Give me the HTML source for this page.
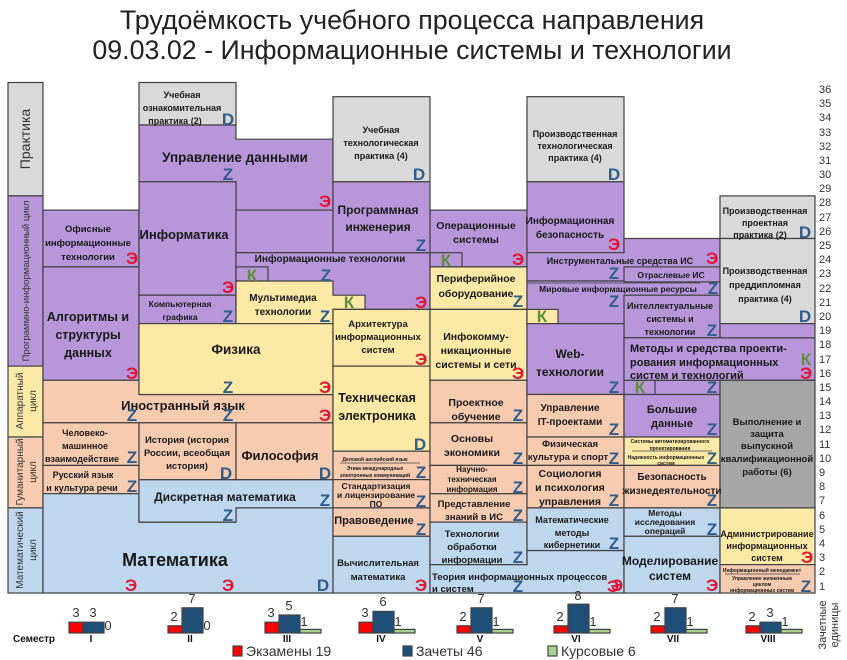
<!DOCTYPE html>
<html><head><meta charset="utf-8"><style>
html,body{margin:0;padding:0;background:#fff;}
svg{display:block;font-family:"Liberation Sans","DejaVu Sans",sans-serif;}
.t{font-weight:bold;fill:#1a1a1a;text-anchor:middle;}
.m{font-weight:bold;font-size:17px;text-anchor:middle;}
.z{fill:#2f5d8c}.e{fill:#e8112d}.k{fill:#5e8f3e}
.G{fill:#d9d9d9}.P{fill:#b896da}.Y{fill:#fde9a6}.O{fill:#f7cbaf}.B{fill:#bed6ee}.D{fill:#a6a6a6}
rect,polygon{stroke:#404040;stroke-width:1.2}
.n{font-size:11px;fill:#333}
</style></head><body>
<svg width="847" height="660" viewBox="0 0 847 660" xmlns="http://www.w3.org/2000/svg">
<text x="412" y="29" font-size="26.8" text-anchor="middle" fill="#222">Трудоёмкость учебного процесса направления</text>
<text x="412" y="59" font-size="26.8" text-anchor="middle" fill="#222">09.03.02 - Информационные системы и технологии</text>

<!-- category column -->
<rect class="G" x="8" y="82.5" width="35" height="113.4"/>
<rect class="P" x="8" y="195.9" width="35" height="170.2"/>
<rect class="Y" x="8" y="366.1" width="35" height="70.9"/>
<rect class="O" x="8" y="437" width="35" height="70.9"/>
<rect class="B" x="8" y="507.9" width="35" height="85.1"/>
<text transform="translate(30,139) rotate(-90)" font-size="14" text-anchor="middle" fill="#333">Практика</text>
<text transform="translate(29,281) rotate(-90)" font-size="9.5" text-anchor="middle" fill="#333">Программно-информационный цикл</text>
<text transform="translate(23,401) rotate(-90)" font-size="10" text-anchor="middle" fill="#333">Аппаратный</text>
<text transform="translate(36,401) rotate(-90)" font-size="10" text-anchor="middle" fill="#333">цикл</text>
<text transform="translate(23,472) rotate(-90)" font-size="10" text-anchor="middle" fill="#333">Гуманитарный</text>
<text transform="translate(36,472) rotate(-90)" font-size="10" text-anchor="middle" fill="#333">цикл</text>
<text transform="translate(23,550) rotate(-90)" font-size="10" text-anchor="middle" fill="#333">Математический</text>
<text transform="translate(36,550) rotate(-90)" font-size="10" text-anchor="middle" fill="#333">цикл</text>

<!-- Col I -->
<rect class="P" x="43" y="210.1" width="96" height="56.8"/>
<rect class="P" x="43" y="266.9" width="96" height="113.4"/>
<polygon class="O" points="43,380.3 139,380.3 139,394.5 333,394.5 333,422.8 43,422.8"/>
<rect class="O" x="43" y="422.8" width="96" height="42.6"/>
<rect class="O" x="43" y="465.4" width="96" height="28.3"/>
<polygon class="B" points="43,493.7 139,493.7 139,522.1 236,522.1 236,507.9 333,507.9 333,593 43,593"/>
<polygon class="B" points="139,479.6 333,479.6 333,507.9 236,507.9 236,522.1 139,522.1"/>
<rect class="O" x="139" y="422.8" width="97" height="56.8"/>
<rect class="O" x="236" y="422.8" width="97" height="56.8"/>

<!-- Col II -->
<rect class="G" x="139" y="82.5" width="97" height="42.5"/>
<polygon class="P" points="139,125 236,125 236,139.2 333,139.2 333,210.1 236,210.1 236,181.8 139,181.8"/>
<rect class="P" x="139" y="181.8" width="97" height="113.4"/>
<rect class="P" x="139" y="295.2" width="97" height="28.4"/>

<!-- Col III -->
<rect class="P" x="236" y="210.1" width="97" height="42.6"/>
<rect class="P" x="236" y="252.7" width="194" height="56.7"/>
<rect class="P" x="236" y="266.9" width="32" height="14.1"/>
<polygon class="Y" points="236,281 333,281 333,295.2 365,295.2 365,309.4 333,309.4 333,323.6 236,323.6"/>
<rect class="Y" x="139" y="323.6" width="194" height="70.9"/>

<!-- Col IV -->
<rect class="G" x="333" y="96.7" width="97" height="85.1"/>
<rect class="P" x="333" y="181.8" width="97" height="70.9"/>
<rect class="Y" x="333" y="309.4" width="97" height="56.7"/>
<rect class="Y" x="333" y="366.1" width="97" height="85.1"/>
<rect class="O" x="333" y="451.2" width="97" height="28.4"/>
<line x1="340" y1="463" x2="420" y2="463" stroke="#404040" stroke-width="0.8"/>
<rect class="O" x="333" y="479.6" width="97" height="28.3"/>
<rect class="O" x="333" y="507.9" width="97" height="28.4"/>
<rect class="B" x="333" y="536.3" width="97" height="56.7"/>

<!-- Col V -->
<rect class="P" x="430" y="210.1" width="97" height="56.8"/>
<rect class="P" x="430" y="252.7" width="32" height="14.2"/>
<rect class="Y" x="430" y="266.9" width="97" height="42.5"/>
<rect class="Y" x="430" y="309.4" width="97" height="70.9"/>
<rect class="O" x="430" y="380.3" width="97" height="42.5"/>
<rect class="O" x="430" y="422.8" width="97" height="42.6"/>
<rect class="O" x="430" y="465.4" width="97" height="28.3"/>
<rect class="O" x="430" y="493.7" width="97" height="28.4"/>
<rect class="B" x="430" y="522.1" width="97" height="42.5"/>
<polygon class="B" points="430,564.6 527,564.6 527,550.5 624,550.5 624,593 430,593"/>

<!-- Col VI -->
<rect class="G" x="527" y="96.7" width="97" height="85.1"/>
<rect class="P" x="527" y="181.8" width="97" height="70.9"/>
<polygon class="P" points="527,252.7 624,252.7 624,238.5 720,238.5 720,281 527,281"/>
<rect class="P" x="527" y="281" width="193" height="42.6"/>
<rect class="P" x="624" y="266.9" width="96" height="15"/>
<line x1="527" y1="283" x2="700" y2="283" stroke="#404040" stroke-width="0.8"/>
<rect class="P" x="624" y="295.2" width="96" height="42.6"/>
<rect class="Y" x="527" y="309.4" width="31" height="14.2"/>
<polygon class="P" points="527,323.6 624,323.6 624,380.3 720,380.3 720,394.5 527,394.5"/>
<rect class="P" x="624" y="380.3" width="31" height="14.2"/>
<rect class="O" x="527" y="394.5" width="97" height="42.5"/>
<rect class="O" x="527" y="437" width="97" height="28.4"/>
<rect class="O" x="527" y="465.4" width="97" height="42.5"/>
<rect class="B" x="527" y="507.9" width="97" height="42.6"/>

<!-- Col VII -->
<rect class="P" x="624" y="337.8" width="191" height="42.5"/>
<rect class="P" x="624" y="394.5" width="96" height="42.5"/>
<rect class="Y" x="624" y="437" width="96" height="28.4"/>
<line x1="632" y1="451" x2="712" y2="451" stroke="#404040" stroke-width="0.8"/>
<rect class="O" x="624" y="465.4" width="96" height="42.5"/>
<rect class="B" x="624" y="507.9" width="96" height="28.4"/>
<rect class="B" x="624" y="536.3" width="96" height="56.7"/>

<!-- Col VIII -->
<rect class="G" x="720" y="195.9" width="95" height="42.6"/>
<rect class="G" x="720" y="238.5" width="95" height="85.1"/>
<rect class="P" x="720" y="323.6" width="95" height="14.2"/>
<rect class="D" x="720" y="380.3" width="95" height="127.6"/>
<rect class="Y" x="720" y="507.9" width="95" height="56.7"/>
<rect class="O" x="720" y="564.6" width="95" height="28.4"/>
<line x1="725" y1="574" x2="800" y2="574" stroke="#404040" stroke-width="0.8"/>

<!-- texts -->
<g class="t">
<text x="88" y="232" font-size="9.5">Офисные</text>
<text x="88" y="246" font-size="9.5">информационные</text>
<text x="88" y="260" font-size="9.5">технологии</text>
<text x="88" y="321" font-size="12.5">Алгоритмы и</text>
<text x="88" y="339" font-size="12.5">структуры</text>
<text x="88" y="357" font-size="12.5">данных</text>
<text x="183" y="410" font-size="13">Иностранный язык</text>
<text x="85" y="436" font-size="9">Человеко-</text>
<text x="85" y="449" font-size="9">машинное</text>
<text x="82" y="462" font-size="9">взаимодействие</text>
<text x="83" y="478" font-size="9">Русский язык</text>
<text x="82" y="491" font-size="9">и культура речи</text>
<text x="175" y="566" font-size="18">Математика</text>

<text x="182" y="98" font-size="9">Учебная</text>
<text x="182" y="111" font-size="9">ознакомительная</text>
<text x="175" y="124" font-size="9">практика (2)</text>
<text x="235" y="162" font-size="13.5">Управление данными</text>
<text x="184" y="239" font-size="13">Информатика</text>
<text x="180" y="307" font-size="8.5">Компьютерная</text>
<text x="180" y="320" font-size="8.5">графика</text>
<text x="236" y="354" font-size="13.5">Физика</text>
<text x="187" y="443" font-size="9.5">История  (история</text>
<text x="187" y="456" font-size="9.5">России, всеобщая</text>
<text x="187" y="469" font-size="9.5">история)</text>
<text x="280" y="460" font-size="13">Философия</text>
<text x="225" y="501" font-size="12">Дискретная математика</text>

<text x="330" y="262" font-size="10">Информационные технологии</text>
<text x="283" y="301" font-size="10">Мультимедиа</text>
<text x="283" y="315" font-size="10">технологии</text>

<text x="381" y="133" font-size="9">Учебная</text>
<text x="381" y="146" font-size="9">технологическая</text>
<text x="381" y="159" font-size="9">практика (4)</text>
<text x="378" y="214" font-size="12">Программная</text>
<text x="378" y="231" font-size="12">инженерия</text>
<text x="378" y="327" font-size="9.5">Архитектура</text>
<text x="378" y="340" font-size="9.5">информационных</text>
<text x="378" y="353" font-size="9.5">систем</text>
<text x="377" y="402" font-size="12.5">Техническая</text>
<text x="377" y="420" font-size="12.5">электроника</text>
<text x="375" y="461" font-size="5">Деловой английский язык</text>
<text x="375" y="470" font-size="5">Этика международных</text>
<text x="375" y="477" font-size="5">электронных коммуникаций</text>
<text x="376" y="489" font-size="8.5">Стандартизация</text>
<text x="376" y="498" font-size="8.5">и лицензирование</text>
<text x="376" y="507" font-size="8.5">ПО</text>
<text x="374" y="524" font-size="11">Правоведение</text>
<text x="378" y="566" font-size="9.5">Вычислительная</text>
<text x="378" y="580" font-size="9.5">математика</text>

<text x="476" y="229" font-size="10.5">Операционные</text>
<text x="476" y="243" font-size="10.5">системы</text>
<text x="476" y="282" font-size="10.5">Периферийное</text>
<text x="476" y="297" font-size="10.5">оборудование</text>
<text x="476" y="340" font-size="10.5">Инфокомму-</text>
<text x="476" y="354" font-size="10.5">никационные</text>
<text x="476" y="368" font-size="10.5">системы и сети</text>
<text x="476" y="406" font-size="10.5">Проектное</text>
<text x="476" y="420" font-size="10.5">обучение</text>
<text x="472" y="442" font-size="10.5">Основы</text>
<text x="472" y="456" font-size="10.5">экономики</text>
<text x="472" y="472" font-size="8">Научно-</text>
<text x="472" y="482" font-size="8">техническая</text>
<text x="472" y="492" font-size="8">информация</text>
<text x="474" y="507" font-size="9.5">Представление</text>
<text x="474" y="520" font-size="9.5">знаний в ИС</text>
<text x="472" y="537" font-size="9.5">Технологии</text>
<text x="472" y="550" font-size="9.5">обработки</text>
<text x="472" y="563" font-size="9.5">информации</text>
<text x="432" y="580" font-size="9.5" text-anchor="start">Теория информационных процессов</text>
<text x="432" y="592" font-size="9.5" text-anchor="start">и систем</text>

<text x="575" y="137" font-size="9">Производственная</text>
<text x="575" y="149" font-size="9">технологическая</text>
<text x="575" y="161" font-size="9">практика (4)</text>
<text x="570" y="224" font-size="10">Информационная</text>
<text x="570" y="238" font-size="10">безопасность</text>
<text x="620" y="264" font-size="9">Инструментальные средства ИС</text>
<text x="671" y="278" font-size="8.5">Отраслевые ИС</text>
<text x="618" y="292" font-size="8.5">Мировые информационные ресурсы</text>
<text x="670" y="309" font-size="9">Интеллектуальные</text>
<text x="670" y="322" font-size="9">системы и</text>
<text x="670" y="335" font-size="9">технологии</text>
<text x="570" y="358" font-size="12">Web-</text>
<text x="570" y="376" font-size="12">технологии</text>
<text x="630" y="352" font-size="11" text-anchor="start">Методы и средства проекти-</text>
<text x="630" y="366" font-size="11" text-anchor="start">рования информационных</text>
<text x="630" y="379" font-size="11" text-anchor="start">систем и технологий</text>
<text x="570" y="411" font-size="10">Управление</text>
<text x="570" y="425" font-size="10">IT-проектами</text>
<text x="570" y="447" font-size="9.5">Физическая</text>
<text x="568" y="460" font-size="9.5">культура и спорт</text>
<text x="570" y="477" font-size="10.5">Социология</text>
<text x="570" y="491" font-size="10.5">и психология</text>
<text x="570" y="505" font-size="10.5">управления</text>
<text x="572" y="523" font-size="9">Математические</text>
<text x="572" y="536" font-size="9">методы</text>
<text x="572" y="548" font-size="9">кибернетики</text>

<text x="672" y="413" font-size="11">Большие</text>
<text x="672" y="427" font-size="11">данные</text>
<text x="670" y="443" font-size="5">Системы автоматизированного</text>
<text x="670" y="450" font-size="5">проектирования</text>
<text x="666" y="459" font-size="5">Надежность информационных</text>
<text x="666" y="465" font-size="5">систем</text>
<text x="672" y="480" font-size="10">Безопасность</text>
<text x="672" y="494" font-size="10">жизнедеятельности</text>
<text x="665" y="516" font-size="8.5">Методы</text>
<text x="665" y="525" font-size="8.5">исследования</text>
<text x="665" y="534" font-size="8.5">операций</text>
<text x="670" y="565" font-size="12">Моделирование</text>
<text x="670" y="580" font-size="12">систем</text>

<text x="765" y="214" font-size="9">Производственная</text>
<text x="765" y="226" font-size="9">проектная</text>
<text x="760" y="238" font-size="9">практика (2)</text>
<text x="765" y="274" font-size="9">Производственная</text>
<text x="765" y="288" font-size="9">преддипломная</text>
<text x="765" y="302" font-size="9">практика (4)</text>
<text x="767" y="425" font-size="9.5">Выполнение и</text>
<text x="767" y="437" font-size="9.5">защита</text>
<text x="767" y="449" font-size="9.5">выпускной</text>
<text x="767" y="462" font-size="9.5">квалификационной</text>
<text x="767" y="475" font-size="9.5">работы (6)</text>
<text x="767" y="537" font-size="9">Администрирование</text>
<text x="767" y="549" font-size="9">информационных</text>
<text x="767" y="561" font-size="9">систем</text>
<text x="762" y="572" font-size="5">Информационный менеджмент</text>
<text x="762" y="580" font-size="5">Управление жизненным</text>
<text x="762" y="586" font-size="5">циклом</text>
<text x="762" y="592" font-size="5">информационных систем</text>
</g>

<!-- marks -->
<g class="m">
<text x="132" y="264" class="e">Э</text>
<text x="132" y="379" class="e">Э</text>
<text x="132" y="421" class="z">Z</text>
<text x="228" y="421" class="z">Z</text>
<text x="325" y="421" class="e">Э</text>
<text x="132" y="463" class="z">Z</text>
<text x="132" y="492" class="z">Z</text>
<text x="131" y="591" class="e">Э</text>
<text x="228" y="591" class="e">Э</text>
<text x="323" y="591" class="z">D</text>
<text x="228" y="125" class="z">D</text>
<text x="228" y="180" class="z">Z</text>
<text x="325" y="207" class="e">Э</text>
<text x="228" y="293" class="e">Э</text>
<text x="228" y="322" class="z">Z</text>
<text x="228" y="393" class="z">Z</text>
<text x="325" y="393" class="e">Э</text>
<text x="226" y="479" class="z">D</text>
<text x="325" y="479" class="z">D</text>
<text x="228" y="521" class="z">Z</text>
<text x="325" y="506" class="z">Z</text>
<text x="252" y="281" class="k">К</text>
<text x="326" y="281" class="z">Z</text>
<text x="446" y="266" class="k">К</text>
<text x="421" y="308" class="e">Э</text>
<text x="325" y="322" class="z">Z</text>
<text x="349" y="308" class="k">К</text>
<text x="419" y="180" class="z">D</text>
<text x="421" y="251" class="z">Z</text>
<text x="421" y="365" class="e">Э</text>
<text x="420" y="450" class="z">D</text>
<text x="421" y="478" class="z">Z</text>
<text x="421" y="507" class="z">Z</text>
<text x="421" y="535" class="z">Z</text>
<text x="421" y="591" class="e">Э</text>
<text x="518" y="265" class="e">Э</text>
<text x="518" y="307" class="z">Z</text>
<text x="518" y="379" class="e">Э</text>
<text x="542" y="322" class="k">К</text>
<text x="518" y="421" class="z">Z</text>
<text x="518" y="464" class="z">Z</text>
<text x="518" y="493" class="z">Z</text>
<text x="518" y="521" class="z">Z</text>
<text x="518" y="563" class="z">Z</text>
<text x="518" y="592" class="z">Z</text>
<text x="613" y="592" class="e">Э</text>
<text x="614" y="180" class="z">D</text>
<text x="614" y="250" class="e">Э</text>
<text x="712" y="264" class="e">Э</text>
<text x="614" y="279" class="z">Z</text>
<text x="713" y="294" class="z">Z</text>
<text x="614" y="307" class="z">Z</text>
<text x="712" y="336" class="z">Z</text>
<text x="614" y="393" class="z">Z</text>
<text x="640" y="393" class="k">К</text>
<text x="712" y="393" class="z">Z</text>
<text x="806" y="365" class="k">К</text>
<text x="806" y="379" class="e">Э</text>
<text x="614" y="435" class="z">Z</text>
<text x="614" y="464" class="z">Z</text>
<text x="614" y="506" class="z">Z</text>
<text x="614" y="549" class="z">Z</text>
<text x="712" y="435" class="z">Z</text>
<text x="712" y="464" class="z">Z</text>
<text x="712" y="506" class="z">Z</text>
<text x="712" y="535" class="z">Z</text>
<text x="617" y="591" class="e">Э</text>
<text x="712" y="591" class="e">Э</text>
<text x="805" y="238" class="z">D</text>
<text x="805" y="322" class="z">D</text>
<text x="807" y="563" class="e">Э</text>
<text x="806" y="592" class="z">Z</text>
</g>

<!-- right axis -->
<g class="n">
<text x="819" y="93">36</text><text x="819" y="107">35</text><text x="819" y="121">34</text><text x="819" y="136">33</text>
<text x="819" y="150">32</text><text x="819" y="164">31</text><text x="819" y="178">30</text><text x="819" y="192">29</text>
<text x="819" y="206">28</text><text x="819" y="221">27</text><text x="819" y="235">26</text><text x="819" y="249">25</text>
<text x="819" y="263">24</text><text x="819" y="277">23</text><text x="819" y="292">22</text><text x="819" y="306">21</text>
<text x="819" y="320">20</text><text x="819" y="334">19</text><text x="819" y="348">18</text><text x="819" y="363">17</text>
<text x="819" y="377">16</text><text x="819" y="391">15</text><text x="819" y="405">14</text><text x="819" y="419">13</text>
<text x="819" y="433">12</text><text x="819" y="448">11</text><text x="819" y="462">10</text><text x="819" y="476">9</text>
<text x="819" y="490">8</text><text x="819" y="504">7</text><text x="819" y="519">6</text><text x="819" y="533">5</text>
<text x="819" y="547">4</text><text x="819" y="561">3</text><text x="819" y="575">2</text><text x="819" y="590">1</text>
</g>

<!-- bar chart -->
<g>
<rect x="69" y="622.2" width="14" height="10.8" fill="#ff0000" stroke="none"/>
<rect x="83" y="622.2" width="21" height="10.8" fill="#1f4e79" stroke="none"/>
<rect x="168" y="625.8" width="14" height="7.2" fill="#ff0000" stroke="none"/>
<rect x="182" y="607.8" width="21" height="25.2" fill="#1f4e79" stroke="none"/>
<rect x="265" y="622.2" width="14" height="10.8" fill="#ff0000" stroke="none"/>
<rect x="279" y="615" width="21" height="18" fill="#1f4e79" stroke="none"/>
<rect x="300" y="629.4" width="21" height="3.6" fill="#a9d18e" stroke="none"/>
<rect x="359" y="622.2" width="14" height="10.8" fill="#ff0000" stroke="none"/>
<rect x="373" y="611.4" width="21" height="21.6" fill="#1f4e79" stroke="none"/>
<rect x="394" y="629.4" width="21" height="3.6" fill="#a9d18e" stroke="none"/>
<rect x="457" y="625.8" width="14" height="7.2" fill="#ff0000" stroke="none"/>
<rect x="471" y="607.8" width="21" height="25.2" fill="#1f4e79" stroke="none"/>
<rect x="492" y="629.4" width="21" height="3.6" fill="#a9d18e" stroke="none"/>
<rect x="554" y="625.8" width="14" height="7.2" fill="#ff0000" stroke="none"/>
<rect x="568" y="604.2" width="21" height="28.8" fill="#1f4e79" stroke="none"/>
<rect x="589" y="629.4" width="21" height="3.6" fill="#a9d18e" stroke="none"/>
<rect x="651" y="625.8" width="14" height="7.2" fill="#ff0000" stroke="none"/>
<rect x="665" y="607.8" width="21" height="25.2" fill="#1f4e79" stroke="none"/>
<rect x="686" y="629.4" width="21" height="3.6" fill="#a9d18e" stroke="none"/>
<rect x="746" y="625.8" width="14" height="7.2" fill="#ff0000" stroke="none"/>
<rect x="760" y="622.2" width="21" height="10.8" fill="#1f4e79" stroke="none"/>
<rect x="781" y="629.4" width="21" height="3.6" fill="#a9d18e" stroke="none"/>
</g>
<g font-size="13" fill="#333" text-anchor="middle">
<text x="76" y="617">3</text><text x="93" y="617">3</text><text x="108" y="630">0</text>
<text x="174" y="621">2</text><text x="192" y="603">7</text><text x="207" y="630">0</text>
<text x="271" y="617">3</text><text x="289" y="610">5</text><text x="304" y="626">1</text>
<text x="365" y="617">3</text><text x="383" y="606">6</text><text x="398" y="626">1</text>
<text x="463" y="621">2</text><text x="481" y="603">7</text><text x="496" y="626">1</text>
<text x="560" y="621">2</text><text x="578" y="600">8</text><text x="593" y="626">1</text>
<text x="657" y="621">2</text><text x="675" y="603">7</text><text x="690" y="626">1</text>
<text x="752" y="621">2</text><text x="770" y="617">3</text><text x="785" y="626">1</text>
</g>
<g font-size="10" font-weight="bold" fill="#111" text-anchor="middle">
<text x="34" y="642">Семестр</text>
<text x="91" y="642">I</text><text x="190" y="642">II</text><text x="287" y="642">III</text><text x="381" y="642">IV</text>
<text x="480" y="642">V</text><text x="576" y="642">VI</text><text x="673" y="642">VII</text><text x="768" y="642">VIII</text>
</g>
<rect x="233" y="646" width="9" height="10" fill="#ff0000" stroke="none"/>
<text x="246" y="656" font-size="14" fill="#333">Экзамены 19</text>
<rect x="403" y="646" width="9" height="10" fill="#1f4e79" stroke="none"/>
<text x="416" y="656" font-size="14" fill="#333">Зачеты 46</text>
<rect x="548" y="646" width="9" height="10" fill="#a9d18e" stroke="none"/>
<text x="561" y="656" font-size="14" fill="#333">Курсовые 6</text>
<text transform="translate(826,625) rotate(-90)" font-size="11" text-anchor="middle" fill="#333">Зачетные</text>
<text transform="translate(838,625) rotate(-90)" font-size="11" text-anchor="middle" fill="#333">единицы</text>
</svg>
</body></html>
